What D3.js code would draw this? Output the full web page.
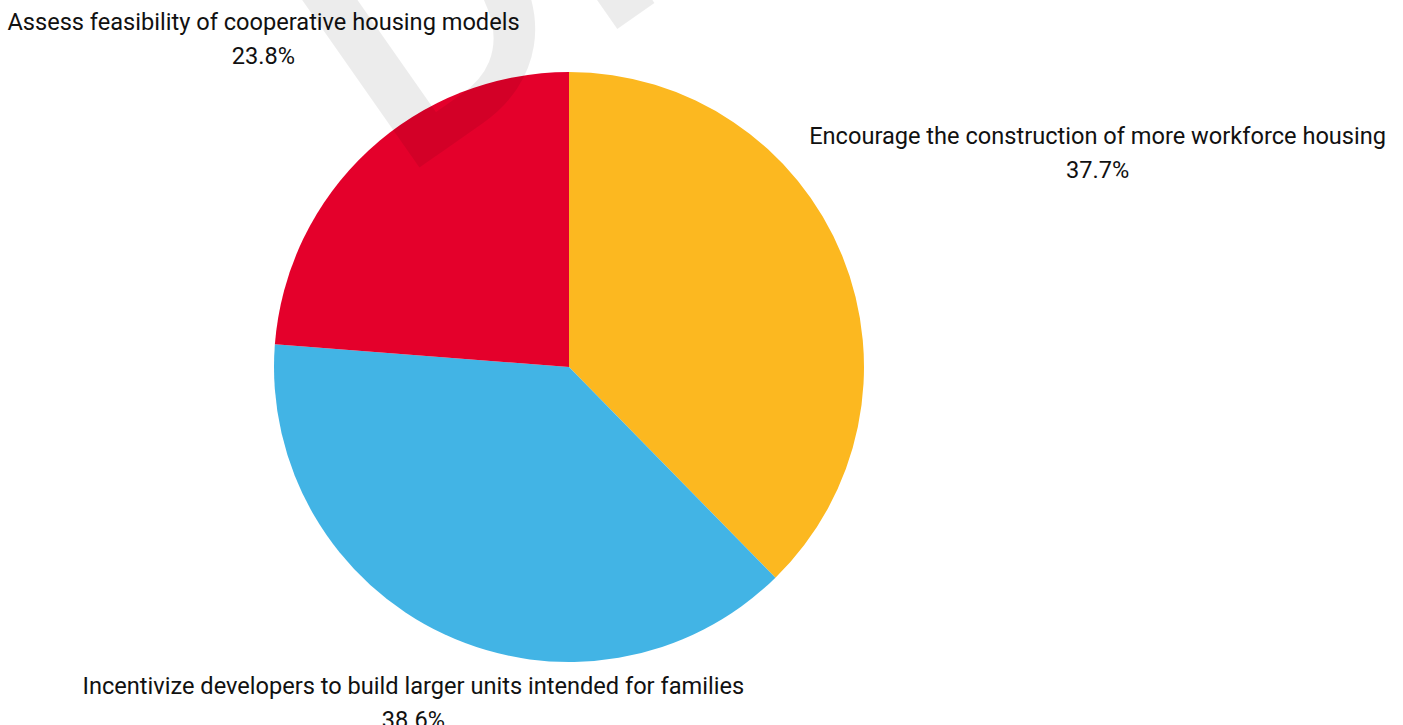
<!DOCTYPE html>
<html>
<head>
<meta charset="utf-8">
<script src="https://cdn.jsdelivr.net/npm/d3@7"></script>
<style>
  html, body { margin: 0; padding: 0; background: #fff; }
  svg { display: block; }
  text { font-family: Roboto, "Noto Sans", sans-serif; }
</style>
</head>
<body>
<svg id="chart" width="1403" height="725"></svg>
<script>
// Survey responses: share of respondents per housing option
const categories = [
  "Encourage the construction of more workforce housing",
  "Incentivize developers to build larger units intended for families",
  "Assess feasibility of cooperative housing models"
];
const values = [37.7, 38.6, 23.8];
const valueLabels = ["37.7%", "38.6%", "23.8%"];
const colors = ["#FCB820", "#42B4E5", "#E4002B"];

const W = 1403, H = 725;
const cx = 569, cy = 367, radius = 295;
const labelGap = 8;
const baselineNudge = 2;
const lineHeight = 34;
const fontSize = 23.6;

const svg = d3.select("#chart");

const pie = d3.pie().sort(null).value(d => d.value);
const arc = d3.arc().innerRadius(0).outerRadius(radius);

const data = categories.map((c, i) => ({ name: c, value: values[i], label: valueLabels[i], color: colors[i] }));
const arcs = pie(data);

const g = svg.append("g").attr("transform", `translate(${cx},${cy})`);

g.selectAll("path.slice")
  .data(arcs)
  .join("path")
  .attr("class", "slice")
  .attr("d", arc)
  .attr("fill", d => d.data.color);

// Outside labels: pushed along each slice's mid-angle until the text box clears the pie
const labels = g.selectAll("g.label")
  .data(arcs)
  .join("g")
  .attr("class", "label");

labels.append("text")
  .attr("text-anchor", "middle")
  .attr("font-size", fontSize)
  .attr("fill", "#111")
  .attr("y", 0)
  .text(d => d.data.name);
labels.append("text")
  .attr("text-anchor", "middle")
  .attr("font-size", fontSize)
  .attr("fill", "#111")
  .attr("y", lineHeight)
  .text(d => d.data.label);

labels.each(function(d) {
  const node = d3.select(this);
  const bb = this.getBBox();
  const mid = (d.startAngle + d.endAngle) / 2;
  const ux = Math.sin(mid), uy = -Math.cos(mid);
  const boxCx = bb.x + bb.width / 2, boxCy = bb.y + bb.height / 2;
  const hw = bb.width / 2, hh = bb.height / 2;
  // nearest distance from pie centre to the box centred at (px, py)
  const nearest = (px, py) => {
    const nx = Math.max(px - hw, Math.min(0, px + hw));
    const ny = Math.max(py - hh, Math.min(0, py + hh));
    return Math.hypot(nx, ny);
  };
  let lo = 0, hi = 2000;
  for (let k = 0; k < 60; k++) {
    const t = (lo + hi) / 2;
    if (nearest(t * ux, t * uy) < radius + labelGap) lo = t; else hi = t;
  }
  const t = hi;
  node.attr("transform", `translate(${t * ux - boxCx},${t * uy - boxCy + baselineNudge})`);
});

// Faint diagonal watermark drawn over the chart
svg.append("text")
  .attr("transform", "translate(423,165) rotate(-35)")
  .attr("x", -31)
  .attr("font-size", 370)
  .attr("font-weight", 500)
  .attr("fill", "rgba(0,0,0,0.075)")
  .text("DRAFT");
</script>
</body>
</html>
